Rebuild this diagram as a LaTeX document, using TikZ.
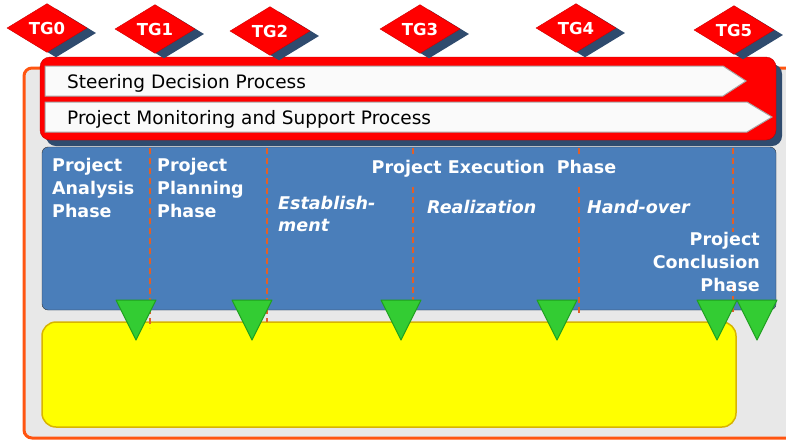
\documentclass[tikz,border=0pt]{standalone}
\usepackage{fontspec}
\setmainfont{DejaVu Sans}
\usetikzlibrary{shapes.geometric,shadows}
\definecolor{tgred}{HTML}{FF0000}
\definecolor{tgshade}{HTML}{2F4B6E}
\definecolor{phaseblue}{HTML}{4A7EBA}
\definecolor{framegray}{HTML}{E8E8E8}
\definecolor{frameorange}{HTML}{FF5511}
\definecolor{cutorange}{HTML}{E0602A}
\definecolor{gateyellow}{HTML}{FFFF00}
\definecolor{gateedge}{HTML}{D8B400}
\definecolor{markgreen}{HTML}{33CC33}
\definecolor{markedge}{HTML}{1F9F1F}

\begin{document}
\begin{tikzpicture}[x=1pt, y=-1pt]
\tikzstyle{tgstyle}=[diamond, fill=tgred, draw=tgred!80!black, minimum width=80pt, minimum height=46pt, inner sep=0pt, text=white, font=\fontsize{16.5}{16.5}\selectfont\bfseries, drop shadow={shadow xshift=9pt, shadow yshift=-5pt, fill=tgshade, opacity=1}]
\tikzstyle{barstyle}=[fill=white!98!black, draw=gray!70, line width=1pt]
\tikzstyle{bartext}=[anchor=base west, inner sep=0pt, font=\fontsize{18.5}{20}\selectfont]
\tikzstyle{phasetext}=[inner sep=0pt, text=white, align=left, font=\fontsize{17.5}{23}\selectfont\bfseries]
\tikzstyle{steptext}=[phasetext, font=\fontsize{17.5}{22}\selectfont\bfseries\itshape]
\tikzstyle{cutline}=[draw=cutorange, line width=1.3pt, dash pattern=on 6pt off 4pt]
\tikzstyle{marker}=[fill=markgreen, draw=markedge, line width=1pt, line join=round]
\useasboundingbox (0,0) rectangle (786,440);
% frame
\draw[fill=framegray, draw=frameorange, line width=3pt, rounded corners=8pt] (24,68) rectangle (800,438);
% process block
\fill[tgshade, rounded corners=10pt] (46,64) rectangle (782,146);
\draw[fill=tgred, draw=tgred!75!black, rounded corners=10pt] (40,57) rectangle (776,140);
\draw[barstyle] (45,66) -- (723,66) -- (746,81) -- (723,96) -- (45,96) -- cycle;
\draw[barstyle] (45,102) -- (747,102) -- (772,117) -- (747,132) -- (45,132) -- cycle;
\node[bartext] (steer) at (67,88) {Steering Decision Process};
\node[bartext] (monit) at (67,124) {Project Monitoring and Support Process};
% phases
\draw[fill=phaseblue, draw=black!80, rounded corners=6pt] (42,147) rectangle (776,310);
\draw[fill=gateyellow, draw=gateedge, line width=1.5pt, rounded corners=14pt] (42,322) rectangle (736,427);
\foreach \x/\yend in {150/328, 267/322} \draw[cutline] (\x,148) -- (\x,\yend);
\foreach \x in {413,579} {
  \draw[cutline] (\x,148) -- (\x,156);
  \draw[cutline] (\x,187) -- (\x,315);
}
\draw[cutline] (733,148) -- (733,232);
\draw[cutline] (733,286) -- (733,315);
\node[phasetext, anchor=north west] (ana) at (52,158) {Project\\Analysis\\Phase};
\node[phasetext, anchor=north west] (pla) at (157,158) {Project\\Planning\\Phase};
\node[phasetext, anchor=north] (exe) at (494,160) {Project Execution\ \ Phase};
\node[steptext, anchor=north west] (est) at (278,196) {Establish-\\ment};
\node[steptext, anchor=north west] (rea) at (427,200) {Realization};
\node[steptext, anchor=north west] (han) at (587,200) {Hand-over};
\node[phasetext, align=right, anchor=north east] (con) at (760,232) {Project\\Conclusion\\Phase};
% gates
\foreach \x in {136,252,401,557,717,757}
  \draw[marker] (\x-20,300) -- (\x+20,300) -- (\x,340) -- cycle;
\foreach \x/\y [count=\i from 0] in {47/28, 155/29, 270/31, 420/29, 576/28, 734/30}
  \node[tgstyle] (tg\i) at (\x,\y) {TG\i};
\end{tikzpicture}
\end{document}
